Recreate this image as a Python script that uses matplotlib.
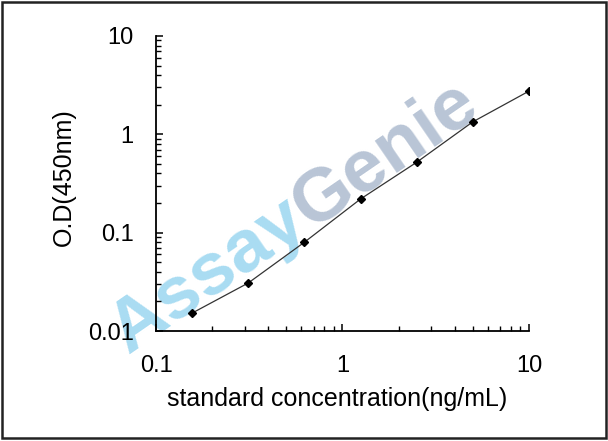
import numpy as np
import matplotlib
matplotlib.use("Agg")
import matplotlib.pyplot as plt
from matplotlib.ticker import LogLocator, NullFormatter, FixedLocator, FixedFormatter

plt.rcParams['font.family'] = ['Liberation Sans', 'DejaVu Sans']

# standard curve
conc = [0.156, 0.3125, 0.625, 1.25, 2.5, 5, 10]
od = [0.0152, 0.0308, 0.080, 0.22, 0.52, 1.34, 2.75]

x_ticks = [0.1, 1, 10]
x_labels = ["0.1", "1", "10"]
y_ticks = [0.01, 0.1, 1, 10]
y_labels = ["0.01", "0.1", "1", "10"]

fig = plt.figure(figsize=(6.08, 4.41), dpi=100)
ax = fig.add_axes([0.2566, 0.2494, 0.6134, 0.669])

ax.plot(conc, od, color="#333333", lw=0.9, marker="D", ms=4.5,
        mfc="black", mec="black")

ax.set_xscale("log")
ax.set_yscale("log")
ax.set_xlim(0.1, 10)
ax.set_ylim(0.01, 10)

ax.xaxis.set_major_locator(FixedLocator(x_ticks))
ax.xaxis.set_major_formatter(FixedFormatter(x_labels))
ax.yaxis.set_major_locator(FixedLocator(y_ticks))
ax.yaxis.set_major_formatter(FixedFormatter(y_labels))
ax.xaxis.set_minor_locator(LogLocator(base=10, subs=range(2, 10)))
ax.yaxis.set_minor_locator(LogLocator(base=10, subs=range(2, 10)))
ax.xaxis.set_minor_formatter(NullFormatter())
ax.yaxis.set_minor_formatter(NullFormatter())

for s in ["top", "right"]:
    ax.spines[s].set_visible(False)
for s in ["left", "bottom"]:
    ax.spines[s].set_linewidth(1.3)

ax.tick_params(which="major", direction="in", length=5, width=1.1,
               labelsize=17, colors="black")
ax.tick_params(axis="y", which="major", pad=16)
ax.tick_params(axis="x", which="major", pad=17)
ax.tick_params(which="minor", direction="in", length=3.5, width=1.0)

ax.set_xlabel("standard concentration(ng/mL)", fontsize=18)
ax.set_ylabel("O.D(450nm)", fontsize=18)
ax.xaxis.set_label_coords(0.485, -0.19)
ax.yaxis.set_label_coords(-0.215, 0.522)

# watermark, "Assay" then "Genie" on the same slanted baseline
angle = 34.5
wm_size = 54
x0, y0 = 128, 441 - 355   # pixel anchor of the "A"
fig.text(x0 / 608, y0 / 441, "Assay", fontsize=wm_size, fontweight="bold",
         color="#a9dcf2", rotation=angle, rotation_mode="anchor",
         ha="left", va="baseline", zorder=0)
probe = fig.text(0, 0, "Assay", fontsize=wm_size, fontweight="bold")
fig.canvas.draw()
w = probe.get_window_extent().width
probe.remove()
x1 = x0 + w * np.cos(np.radians(angle))
y1 = y0 + w * np.sin(np.radians(angle))
fig.text(x1 / 608, y1 / 441, "Genie", fontsize=wm_size, fontweight="bold",
         color="#b9c5d6", rotation=angle, rotation_mode="anchor",
         ha="left", va="baseline", zorder=0)
ax.set_facecolor("none")
ax.set_zorder(2)

# outer frame
fig.patches.append(plt.Rectangle((0.004, 0.006), 0.992, 0.99, transform=fig.transFigure,
                                 fill=False, ec="#222222", lw=1.8))

fig.savefig("out.png", dpi=100)
